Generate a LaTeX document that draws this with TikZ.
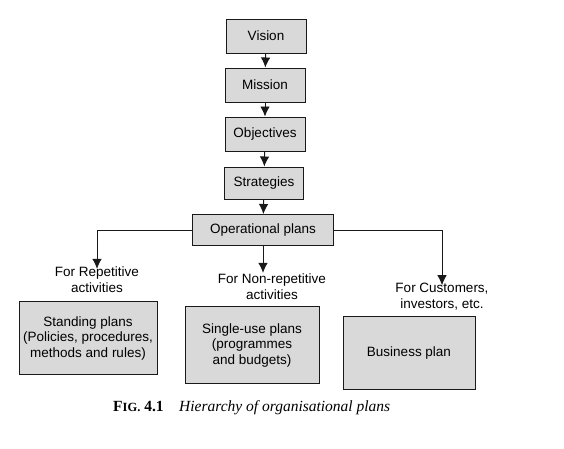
\documentclass[tikz,border=0pt]{standalone}
\usepackage{fontspec}
\setmainfont{Liberation Sans}
\newfontfamily\capfont{Liberation Serif}
\usetikzlibrary{arrows.meta}
\begin{document}
\begin{tikzpicture}[x=1pt,y=-1pt,
  box/.style={draw=black!90,fill=black!15,line width=1pt,font=\fontsize{13.5}{15.5}\selectfont,align=center,inner sep=2pt},
  lbl/.style={font=\fontsize{13.5}{16}\selectfont,align=center,inner sep=1pt},
  conn/.style={draw=black!90,line width=0.9pt,-{Latex[length=10pt,width=9.5pt]}}]
\useasboundingbox[fill=white] (0,0) rectangle (564,448);
\node[box,minimum width=80pt,minimum height=34pt] (vis) at (266,36) {Vision};
\node[box,minimum width=80pt,minimum height=34pt] (mis) at (265,85) {Mission};
\node[box,minimum width=80pt,minimum height=34pt] (obj) at (265,134) {Objectives};
\node[box,minimum width=79pt,minimum height=32pt] (str) at (264,183) {Strategies};
\node[box,minimum width=141pt,minimum height=31pt] (op) at (263,230) {Operational plans};
\node[lbl] (t1) at (97,280) {For Repetitive\\activities};
\node[lbl] (t2) at (272,287) {For Non-repetitive\\activities};
\node[lbl] (t3) at (442,297) {For Customers,\\investors, etc.};
\node[box,minimum width=138pt,minimum height=73pt] (sp) at (88,338) {Standing plans\\(Policies, procedures,\\methods and rules)};
\node[box,minimum width=134pt,minimum height=77pt] (su) at (252,345) {Single-use plans\\(programmes\\and budgets)};
\node[box,minimum width=132pt,minimum height=73pt] (bp) at (409,353) {Business plan};
\node[font=\capfont\fontsize{15.5}{17}\selectfont,anchor=west,inner sep=0pt] (cap) at (113,408) {\textbf{F{\fontsize{12.5}{14}\selectfont IG.} 4.1}\quad\textit{Hierarchy of organisational plans}};
\draw[conn] (vis) -- (mis);
\draw[conn] (mis) -- (obj);
\draw[conn] (obj) -- (str);
\draw[conn] (str) -- (op);
\draw[conn] (op.west) -| ([yshift=-3pt]t1.north);
\draw[conn] (op.south) -- (op.south |- t2.north);
\draw[conn] (op.east) -| ([yshift=-3pt]t3.north);
\end{tikzpicture}
\end{document}
